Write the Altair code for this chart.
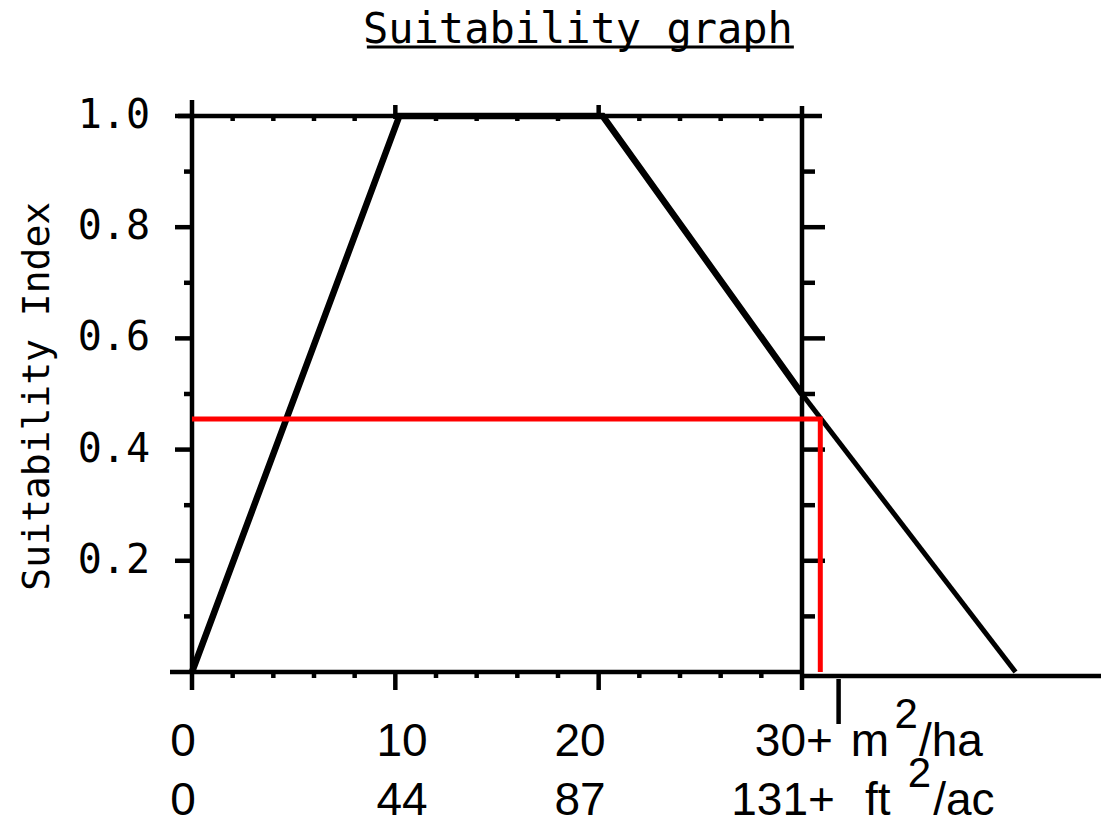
import altair as alt
import pandas as pd

# ---- data ----
curve_x = [0, 10.2, 20.2, 30]        # basal area, m2/ha
curve_y = [0.0, 1.0, 1.0, 0.5]       # suitability index
ext_x = [30, 40.5]                   # hand-drawn extension of the falling limb
ext_y = [0.5, 0.0]
read_x = 30.9                        # red read-off point
read_y = 0.455
marker_x = 31.8                      # small black mark below the axis

x_major = [10, 20]
x_minor = [2, 4, 6, 8, 12, 14, 16, 18, 22, 24, 26, 28]
y_major = [0.2, 0.4, 0.6, 0.8, 1.0]
y_right_major = [0.2, 0.4, 0.6, 0.8]
y_minor = [0.1, 0.3, 0.5, 0.7, 0.9]
y_labels = ["0.2", "0.4", "0.6", "0.8", "1.0"]

row1_labels = ["0", "10", "20", "30+"]
row1_pos = [-0.44, 10.33, 19.08, 29.6]
row2_labels = ["0", "44", "87", "131+"]
row2_pos = [-0.44, 10.33, 19.08, 29.07]
unit1_text = ["m", "2", "/ha"]
unit1_pos = [32.4, 34.55, 35.75]
unit2_text = ["ft", "2", "/ac"]
unit2_pos = [33.1, 35.2, 36.45]
row1_y = -0.151
row2_y = -0.257

title_text = "Suitability graph"
y_title = "Suitability Index"

# ---- layout helpers (pixel scale of the drawing) ----
PX_X = 1 / 20.333   # data units per pixel, x
PX_Y = 1 / 556.0    # data units per pixel, y
X_DOM = [-9.049, 44.705]
Y_DOM = [-0.268, 1.0827]

xs = alt.Scale(domain=X_DOM, nice=False, zero=False)
ys = alt.Scale(domain=Y_DOM, nice=False, zero=False)


def X(f="x"):
    return alt.X(f"{f}:Q", scale=xs, axis=None)


def Y(f="y"):
    return alt.Y(f"{f}:Q", scale=ys, axis=None)


MONO = "DejaVu Sans Mono"
XFONT = "Liberation Sans"

curve_df = pd.DataFrame({"x": curve_x, "y": curve_y, "i": range(len(curve_x))})
curve = alt.Chart(curve_df).mark_line(color="black", strokeWidth=6.5).encode(
    x=X(), y=Y(), order="i:Q"
)

ext_df = pd.DataFrame({"x": ext_x, "y": ext_y})
ext = alt.Chart(ext_df).mark_line(color="black", strokeWidth=5).encode(x=X(), y=Y())

# frame and ticks of the scanned graph
segs = []
segs.append((-14 * PX_X, 30 + 20 * PX_X, 1.0, 1.0))          # top edge
segs.append((-22 * PX_X, 30, 0.0, 0.0))                        # bottom edge
segs.append((0, 0, -18 * PX_Y, 1 + 16 * PX_Y))                 # left edge
segs.append((30, 30, -18 * PX_Y, 1 + 10 * PX_Y))               # right edge
for v in x_major:
    segs.append((v, v, -18 * PX_Y, 0))
    segs.append((v, v, 1 - 3 * PX_Y, 1 + 11 * PX_Y))
for v in x_minor:
    segs.append((v, v, -6 * PX_Y, 0))
    segs.append((v, v, 1 - 5 * PX_Y, 1 + 2 * PX_Y))
for v in y_minor:
    segs.append((-8 * PX_X, 0, v, v))
    segs.append((30, 30 + 13 * PX_X, v, v))
for v in y_major:
    segs.append((-17 * PX_X, 0, v, v))
for v in y_right_major:
    segs.append((30, 30 + 23 * PX_X, v, v))
frame_df = pd.DataFrame(segs, columns=["x", "x2", "y", "y2"])
frame = alt.Chart(frame_df).mark_rule(color="black", strokeWidth=4.5).encode(
    x=X(), x2="x2:Q", y=Y(), y2="y2:Q"
)

# hand-drawn additions
add_df = pd.DataFrame([
    (30, X_DOM[1], -4 * PX_Y, -4 * PX_Y),
    (marker_x, marker_x, -7 * PX_Y, -52 * PX_Y),
], columns=["x", "x2", "y", "y2"])
add = alt.Chart(add_df).mark_rule(color="black", strokeWidth=4.5).encode(
    x=X(), x2="x2:Q", y=Y(), y2="y2:Q"
)

red_df = pd.DataFrame({"x": [0, read_x, read_x], "y": [read_y, read_y, 0], "i": [0, 1, 2]})
red = alt.Chart(red_df).mark_line(color="#ff0000", strokeWidth=5, strokeJoin="miter").encode(
    x=X(), y=Y(), order="i:Q"
)

# y tick labels and y title
ylab_df = pd.DataFrame({"x": [0] * len(y_major), "y": y_major, "t": y_labels})
ylabels = alt.Chart(ylab_df).mark_text(
    font=MONO, fontSize=40, color="black", align="right", baseline="middle", dx=-42
).encode(x=X(), y=Y(), text="t:N")

ytitle_df = pd.DataFrame({"x": [-154 * PX_X], "y": [0.496], "t": [y_title]})
ytitle = alt.Chart(ytitle_df).mark_text(
    font=MONO, fontSize=38, color="black", align="center", baseline="middle", angle=270
).encode(x=X(), y=Y(), text="t:N")

# x labels (two unit rows)
lab_df = pd.DataFrame({
    "x": row1_pos + row2_pos,
    "y": [row1_y] * 4 + [row2_y] * 4,
    "t": row1_labels + row2_labels,
})
labels = alt.Chart(lab_df).mark_text(
    font=XFONT, fontSize=46, color="black", align="center", baseline="alphabetic"
).encode(x=X(), y=Y(), text="t:N")

unit_df = pd.DataFrame({
    "x": unit1_pos + unit2_pos,
    "y": [row1_y] * 3 + [row2_y] * 3,
    "t": unit1_text + unit2_text,
    "sup": [0, 1, 0, 0, 1, 0],
})
units = alt.Chart(unit_df).transform_filter("datum.sup == 0").mark_text(
    font=XFONT, fontSize=46, color="black", align="left", baseline="alphabetic"
).encode(x=X(), y=Y(), text="t:N")
sups = alt.Chart(unit_df).transform_filter("datum.sup == 1").mark_text(
    font=XFONT, fontSize=42, color="black", align="left", baseline="alphabetic", dy=-28
).encode(x=X(), y=Y(), text="t:N")

# title with underline
title_df = pd.DataFrame({"x": [18.98], "y": [1.1313], "t": [title_text]})
title = alt.Chart(title_df).mark_text(
    font=MONO, fontSize=42, color="black", align="center", baseline="alphabetic"
).encode(x=X(), y=Y(), text="t:N")

ul_df = pd.DataFrame({"x": [8.6], "x2": [29.6], "y": [1.124]})
underline = alt.Chart(ul_df).mark_rule(color="black", strokeWidth=3).encode(
    x=X(), x2="x2:Q", y=Y()
)

chart = alt.layer(
    curve, ext, frame, add, red, ylabels, ytitle, labels, units, sups, title, underline
).properties(
    width=1093, height=751,
    autosize="none",
    padding={"left": 0, "top": 62, "right": 0, "bottom": 0},
).configure_view(stroke=None)

chart.save("out.html", embed_options={"renderer": "svg", "actions": False})
